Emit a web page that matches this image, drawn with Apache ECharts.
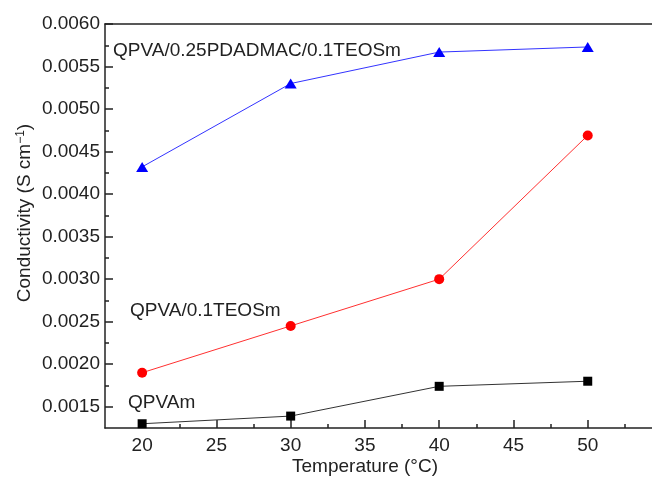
<!DOCTYPE html>
<html><head><meta charset="utf-8">
<script src="https://cdn.jsdelivr.net/npm/echarts@6/dist/echarts.min.js"></script>
<style>html,body{margin:0;padding:0;background:#fff}#c{width:652px;height:477px}</style>
</head><body><div id="c"></div>
<script>
const temps = [20, 30, 40, 50];
const qpvam = [0.00130, 0.00139, 0.00174, 0.00180];
const qpvaTeos = [0.00190, 0.00245, 0.00300, 0.00469];
const qpvaPdadmac = [0.00432, 0.00530, 0.00567, 0.00573];
const seriesNames = ['QPVAm', 'QPVA/0.1TEOSm', 'QPVA/0.25PDADMAC/0.1TEOSm'];
const xMajorTicks = [20, 25, 30, 35, 40, 45, 50, 55];
const xMinorTicks = [22.5, 27.5, 32.5, 37.5, 42.5, 47.5, 52.5];
const yMajorTicks = [0.0015, 0.0020, 0.0025, 0.0030, 0.0035, 0.0040, 0.0045, 0.0050, 0.0055, 0.0060];
const yMinorTicks = [0.00175, 0.00225, 0.00275, 0.00325, 0.00375, 0.00425, 0.00475, 0.00525, 0.00575];

const FONT = 'Liberation Sans, Arial, sans-serif';
const AX = '#222';
const FS = 19;
const zip = arr => temps.map((t, i) => [t, arr[i]]);

const chart = echarts.init(document.getElementById('c'), null, {renderer: 'canvas'});
const xBase = {type: 'value', min: 17.5, max: 55, gridIndex: 0, position: 'bottom', splitLine: {show: false}};
const yBase = {type: 'value', min: 0.00125, max: 0.006, gridIndex: 0, position: 'left', splitLine: {show: false}};
chart.setOption({
  animation: false,
  backgroundColor: '#fff',
  grid: {left: 105, top: 24, width: 557, height: 404, outerBoundsMode: 'none', containLabel: false, show: false},
  xAxis: [
    Object.assign({}, xBase, {
      axisLine: {show: true, onZero: false, lineStyle: {color: AX, width: 1.5}},
      axisTick: {show: true, inside: true, length: 8, customValues: xMajorTicks, lineStyle: {color: AX, width: 1.5}},
      axisLabel: {show: true, customValues: xMajorTicks.slice(0, 7), margin: 8, color: '#222', fontFamily: FONT, fontSize: FS}
    }),
    Object.assign({}, xBase, {
      axisLine: {show: false},
      axisTick: {show: true, inside: true, length: 4, customValues: xMinorTicks, lineStyle: {color: AX, width: 1.5}},
      axisLabel: {show: false}
    }),
    Object.assign({}, xBase, {
      position: 'top',
      axisLine: {show: true, onZero: false, lineStyle: {color: AX, width: 1.5}},
      axisTick: {show: false},
      axisLabel: {show: false}
    })
  ],
  yAxis: [
    Object.assign({}, yBase, {
      axisLine: {show: true, onZero: false, lineStyle: {color: AX, width: 1.5}},
      axisTick: {show: true, inside: true, length: 8, customValues: yMajorTicks, lineStyle: {color: AX, width: 1.5}},
      axisLabel: {show: true, customValues: yMajorTicks, margin: 5, color: '#222', fontFamily: FONT, fontSize: FS,
        formatter: v => v.toFixed(4)}
    }),
    Object.assign({}, yBase, {
      axisLine: {show: false},
      axisTick: {show: true, inside: true, length: 4, customValues: yMinorTicks, lineStyle: {color: AX, width: 1.5}},
      axisLabel: {show: false}
    })
  ],
  series: [
    {name: seriesNames[0], type: 'line', data: zip(qpvam), symbol: 'rect', symbolSize: 9,
      itemStyle: {color: '#000'}, lineStyle: {color: '#333', width: 1}},
    {name: seriesNames[1], type: 'line', data: zip(qpvaTeos), symbol: 'circle', symbolSize: 10,
      itemStyle: {color: '#ff0000'}, lineStyle: {color: '#ff3030', width: 1}},
    {name: seriesNames[2], type: 'line', data: zip(qpvaPdadmac), symbol: 'triangle', symbolSize: [12, 10],
      itemStyle: {color: '#0000ff'}, lineStyle: {color: '#3333ff', width: 1}}
  ],
  graphic: [
    {type: 'text', left: 113, top: 41, style: {text: seriesNames[2], font: FS + 'px ' + FONT, fill: '#222'}},
    {type: 'text', left: 130, top: 301, style: {text: seriesNames[1], font: FS + 'px ' + FONT, fill: '#222'}},
    {type: 'text', left: 128, top: 393, style: {text: seriesNames[0], font: FS + 'px ' + FONT, fill: '#222'}},
    {type: 'text', x: 365, y: 467, style: {text: 'Temperature (°C)', font: FS + 'px ' + FONT, fill: '#222', align: 'center', verticalAlign: 'middle'}},
    {type: 'text', x: 25, y: 213, rotation: Math.PI / 2,
      style: {text: 'Conductivity (S cm{sup|−1})', font: FS + 'px ' + FONT, fill: '#222', align: 'center', verticalAlign: 'middle',
        rich: {sup: {fontSize: 12, fontFamily: FONT, fill: '#222', verticalAlign: 'top', padding: [0, 0, 8, 0]}}}}
  ]
});
</script></body></html>
